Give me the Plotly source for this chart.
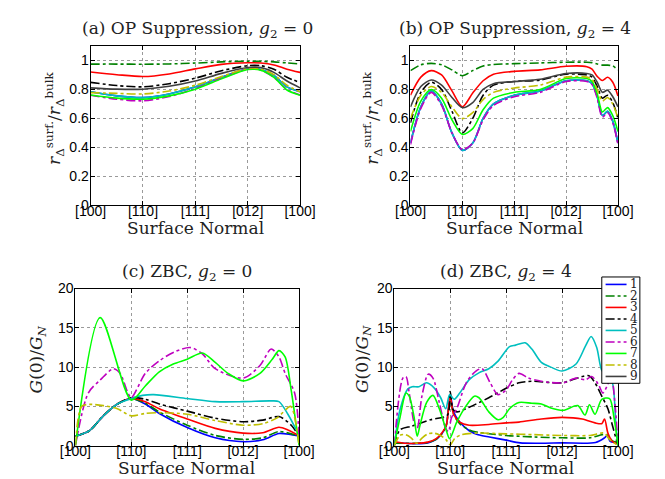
import plotly.graph_objects as go
from plotly.subplots import make_subplots

# tick labels / legend
TICK_TEXT = ["[100]", "[110]", "[111]", "[012]", "[100]"]
LEGEND_LABELS = ["1", "2", "3", "4", "5", "6", "7", "8", "9"]

# (a) OP suppression, g2 = 0  (common x grid)
A_X = [0, 0.5, 1, 1.5, 2, 2.5, 3, 3.25, 3.5, 3.75, 4]
A1 = [0.784, 0.756, 0.744, 0.769, 0.818, 0.884, 0.942, 0.938, 0.896, 0.818, 0.784]
A2 = [0.975, 0.975, 0.974, 0.976, 0.982, 0.99, 0.995, 0.994, 0.99, 0.983, 0.976]
A3 = [0.92, 0.902, 0.889, 0.907, 0.942, 0.973, 0.984, 0.982, 0.969, 0.94, 0.918]
A4 = [0.849, 0.827, 0.818, 0.84, 0.878, 0.929, 0.964, 0.964, 0.94, 0.884, 0.848]
A5 = [0.784, 0.756, 0.744, 0.769, 0.818, 0.884, 0.942, 0.938, 0.896, 0.818, 0.784]
A6 = [0.76, 0.733, 0.722, 0.751, 0.807, 0.878, 0.94, 0.933, 0.884, 0.8, 0.762]
A7 = [0.762, 0.74, 0.733, 0.756, 0.802, 0.873, 0.938, 0.933, 0.884, 0.796, 0.76]
A8 = [0.778, 0.773, 0.769, 0.789, 0.829, 0.889, 0.944, 0.942, 0.902, 0.829, 0.784]
A9 = [0.811, 0.802, 0.802, 0.822, 0.858, 0.911, 0.951, 0.951, 0.918, 0.858, 0.811]

# (b) OP suppression, g2 = 4
B_X = [0, 0.2, 0.4, 0.6, 0.8, 1.0, 1.2, 1.4, 1.6, 2.0, 2.5, 3.0, 3.4, 3.5, 3.6, 3.7, 3.8, 3.9, 4.0]
B1 = [0.43, 0.68, 0.79, 0.70, 0.50, 0.38, 0.43, 0.60, 0.70, 0.76, 0.79, 0.86, 0.86, 0.84, 0.75, 0.62, 0.65, 0.58, 0.43]
B2 = [0.93, 0.97, 0.98, 0.97, 0.935, 0.895, 0.93, 0.962, 0.972, 0.978, 0.983, 0.988, 0.988, 0.985, 0.975, 0.968, 0.968, 0.962, 0.935]
B3 = [0.76, 0.885, 0.93, 0.90, 0.79, 0.68, 0.775, 0.86, 0.905, 0.925, 0.935, 0.96, 0.957, 0.94, 0.89, 0.862, 0.884, 0.85, 0.755]
B4 = [0.57, 0.78, 0.85, 0.80, 0.65, 0.50, 0.60, 0.76, 0.83, 0.855, 0.865, 0.905, 0.9, 0.885, 0.82, 0.74, 0.76, 0.71, 0.6]
B5 = [0.43, 0.68, 0.79, 0.70, 0.50, 0.38, 0.43, 0.60, 0.70, 0.76, 0.79, 0.86, 0.86, 0.84, 0.75, 0.62, 0.65, 0.58, 0.43]
B6 = [0.42, 0.67, 0.78, 0.69, 0.50, 0.385, 0.43, 0.59, 0.69, 0.75, 0.78, 0.855, 0.855, 0.835, 0.74, 0.61, 0.64, 0.57, 0.42]
B7 = [0.51, 0.72, 0.80, 0.74, 0.59, 0.49, 0.53, 0.66, 0.74, 0.78, 0.80, 0.875, 0.875, 0.855, 0.77, 0.645, 0.675, 0.62, 0.51]
B8 = [0.60, 0.76, 0.82, 0.78, 0.68, 0.60, 0.64, 0.73, 0.78, 0.81, 0.83, 0.885, 0.885, 0.87, 0.8, 0.72, 0.745, 0.70, 0.60]
B9 = [0.68, 0.82, 0.865, 0.83, 0.745, 0.675, 0.71, 0.80, 0.84, 0.855, 0.87, 0.91, 0.91, 0.9, 0.85, 0.78, 0.795, 0.75, 0.68]

# (c) ZBC, g2 = 0  (each series has its own x samples)
C1_X = [0, 0.25, 0.5, 0.75, 1.0, 1.25, 1.5, 2.0, 2.5, 3.0, 3.35, 3.64, 3.86, 4.0]
C1_Y = [1.2, 1.9, 3.8, 5.3, 6.0, 5.3, 4.1, 2.3, 1.0, 0.5, 0.75, 1.55, 1.4, 1.25]
C2_X = [0, 0.25, 0.5, 0.75, 1.0, 1.25, 1.5, 2.0, 2.5, 3.0, 3.35, 3.64, 3.86, 4.0]
C2_Y = [1.2, 1.9, 3.8, 5.3, 6.0, 5.4, 4.3, 2.6, 1.3, 0.8, 1.0, 1.8, 1.5, 1.2]
C3_X = [0, 0.25, 0.5, 0.75, 1.0, 1.25, 1.5, 2.0, 2.5, 3.0, 3.35, 3.64, 3.8, 4.0]
C3_Y = [1.2, 1.9, 3.8, 5.3, 6.0, 5.6, 4.7, 3.4, 2.2, 1.6, 1.65, 2.35, 2.0, 1.25]
C4_X = [0, 0.25, 0.5, 0.75, 1.0, 1.25, 1.5, 2.0, 2.5, 3.0, 3.35, 3.64, 3.86, 4.0]
C4_Y = [1.2, 1.9, 3.8, 5.3, 6.1, 5.9, 5.3, 4.4, 3.5, 3.05, 3.25, 3.7, 2.6, 1.2]
C5_X = [0, 0.25, 0.5, 0.75, 1.0, 1.2, 1.4, 2.0, 2.5, 3.0, 3.5, 3.64, 3.8, 4.0]
C5_Y = [1.2, 1.9, 3.8, 5.3, 6.0, 6.4, 6.5, 6.0, 5.6, 5.6, 5.7, 5.6, 4.0, 1.3]
C6_X = [0, 0.23, 0.45, 0.68, 0.8, 0.94, 1.0, 1.25, 1.5, 1.76, 2.05, 2.27, 2.5, 3.0, 3.3, 3.5, 3.64, 3.75, 3.92, 4.0]
C6_Y = [0, 6.7, 8.4, 9.8, 9.2, 6.7, 6.1, 9.2, 10.8, 11.9, 12.5, 11.7, 9.8, 8.6, 10.2, 12.3, 11.3, 9.2, 6.7, 1.2]
C7_X = [0, 0.443, 1.0, 1.25, 1.5, 1.75, 2.0, 2.27, 2.5, 2.73, 3.0, 3.3, 3.52, 3.64, 3.75, 3.86, 3.95, 4.0]
C7_Y = [0, 16.3, 5.8, 7.6, 9.4, 10.4, 11.0, 11.8, 10.6, 9.2, 8.25, 9.2, 11.0, 12.1, 11.3, 7.0, 2.5, 0]
C8_X = [0, 0.11, 0.25, 0.5, 0.75, 1.0, 1.25, 1.5, 2.0, 2.5, 3.0, 3.35, 3.6, 3.85, 3.95, 4.0]
C8_Y = [0, 5.0, 5.25, 5.1, 4.7, 3.8, 4.1, 4.2, 4.0, 3.2, 2.6, 2.8, 3.5, 5.0, 2.5, 0]

# (d) ZBC, g2 = 4
D1_X = [0, 0.2, 0.4, 0.6, 0.75, 0.85, 0.93, 1.0, 1.06, 1.17, 1.34, 1.5, 1.7, 2.0, 2.25, 2.6, 3.0, 3.6, 3.76, 3.81, 3.86, 3.93, 4.0]
D1_Y = [0.4, 0.3, 0.25, 0.35, 0.8, 1.5, 2.6, 6.5, 4.3, 3.0, 1.9, 1.4, 1.1, 0.7, 0.35, 0.3, 0.35, 0.4, 1.0, 1.3, 0.55, 0.45, 0.5]
D2_X = [0, 0.2, 0.4, 0.6, 0.75, 0.85, 0.93, 1.0, 1.06, 1.17, 1.34, 1.5, 2.0, 2.5, 3.0, 3.5, 3.72, 3.8, 3.9, 4.0]
D2_Y = [0.3, 0.3, 0.3, 0.4, 0.8, 1.5, 2.6, 6.0, 4.0, 2.8, 2.0, 1.7, 1.3, 1.1, 1.0, 1.0, 1.4, 1.4, 0.6, 0.4]
D3_X = [0, 0.2, 0.4, 0.6, 0.75, 0.85, 0.93, 1.0, 1.06, 1.17, 1.34, 1.69, 2.0, 2.23, 2.63, 3.0, 3.36, 3.59, 3.71, 3.76, 3.82, 3.9, 4.0]
D3_Y = [0.5, 0.3, 0.3, 0.45, 0.9, 1.6, 2.6, 6.3, 4.0, 3.0, 2.6, 2.7, 2.9, 3.0, 3.4, 3.6, 3.4, 2.9, 2.8, 3.4, 1.6, 0.55, 0.2]
D4_X = [0, 0.1, 0.32, 0.65, 0.95, 1.0, 1.05, 1.12, 1.34, 1.69, 2.0, 2.23, 2.46, 3.0, 3.36, 3.48, 3.59, 3.71, 3.82, 3.9, 4.0]
D4_Y = [0, 2.0, 2.5, 3.3, 3.9, 6.9, 4.6, 4.3, 4.9, 6.1, 7.3, 8.0, 8.2, 8.0, 8.8, 8.9, 8.0, 6.3, 4.7, 2.6, 0]
D5_X = [0, 0.1, 0.24, 0.32, 0.44, 0.58, 0.72, 0.83, 0.92, 0.99, 1.07, 1.17, 1.34, 1.52, 1.69, 1.86, 2.06, 2.17, 2.34,
        2.46, 2.63, 2.8, 3.0, 3.25, 3.42, 3.52, 3.62, 3.71, 3.8, 3.9, 3.96, 4.0]
D5_Y = [0, 4.5, 7.2, 7.5, 7.5, 8.0, 7.3, 6.1, 4.7, 6.5, 5.9, 6.7, 8.4, 9.3, 9.8, 10.8, 12.6, 12.8, 13.1,
        12.3, 10.6, 10.0, 9.5, 10.4, 12.7, 13.9, 12.5, 9.6, 9.0, 8.0, 3.0, 0]
D6_X = [0, 0.153, 0.21, 0.267, 0.352, 0.409, 0.494, 0.607, 0.692, 0.805, 0.919, 0.97, 1.02, 1.117, 1.287, 1.46, 1.57,
        1.715, 1.855, 2.0, 2.116, 2.23, 2.4, 2.627, 3.02, 3.25, 3.42, 3.53, 3.65, 3.73, 3.8, 3.88, 3.95, 4.0]
D6_Y = [0, 8.6, 8.8, 6.7, 3.0, 2.2, 6.3, 9.1, 8.6, 5.5, 2.2, 1.8, 3.5, 4.7, 8.0, 9.5, 9.8,
        8.0, 6.5, 7.1, 8.4, 9.2, 8.6, 8.2, 8.0, 8.6, 8.4, 8.8, 7.8, 6.7, 7.5, 8.8, 5.0, 0]
D7_X = [0, 0.1, 0.21, 0.267, 0.35, 0.41, 0.46, 0.579, 0.692, 0.805, 0.919, 0.99, 1.117, 1.287, 1.43, 1.515, 1.69,
        1.855, 1.95, 2.06, 2.23, 2.46, 2.63, 2.8, 3.02, 3.28, 3.41, 3.49, 3.59, 3.71, 3.85, 3.93, 4.0]
D7_Y = [0, 3.5, 6.7, 6.3, 3.8, 1.2, 2.6, 5.5, 6.4, 4.7, 2.2, 0.9, 3.0, 5.1, 6.3, 6.1, 4.3,
        3.3, 3.6, 4.7, 5.5, 5.4, 5.3, 4.8, 4.5, 5.1, 3.9, 5.2, 4.0, 5.9, 6.0, 3.5, 0]
D8_X = [0, 0.1, 0.2, 0.3, 0.4, 0.5, 0.6, 0.7, 0.8, 0.92, 1.0, 1.08, 1.2, 1.5, 2.0, 2.5, 3.0, 3.5, 3.75, 3.85, 4.0]
D8_Y = [0, 1.3, 1.4, 1.0, 0.3, 1.0, 1.5, 1.6, 1.4, 0.8, 0.1, 0.9, 1.4, 1.6, 1.5, 1.4, 1.3, 1.3, 1.6, 0.8, 0]

# MATLAB-ish line styles for series 1..9
COLORS = ["#0000ff", "#008000", "#ff0000", "#000000", "#00bfbf",
          "#bf00bf", "#00ff00", "#bfbf00", "#404040"]
DASHES = ["solid", "dashdot", "solid", "dashdot", "solid",
          "dashdot", "solid", "dashdot", "solid"]

W, H = 665, 479
SERIF = "DejaVu Serif"
SANS = "Liberation Sans"


def px_x(p):
    return p / W


def px_y(p):
    return 1 - p / H


fig = make_subplots(rows=2, cols=2)

panels = [
    (1, 1, [(A_X, y) for y in [A1, A2, A3, A4, A5, A6, A7, A8, A9]]),
    (1, 2, [(B_X, y) for y in [B1, B2, B3, B4, B5, B6, B7, B8, B9]]),
    (2, 1, [(C1_X, C1_Y), (C2_X, C2_Y), (C3_X, C3_Y), (C4_X, C4_Y), (C5_X, C5_Y),
            (C6_X, C6_Y), (C7_X, C7_Y), (C8_X, C8_Y)]),
    (2, 2, [(D1_X, D1_Y), (D2_X, D2_Y), (D3_X, D3_Y), (D4_X, D4_Y), (D5_X, D5_Y),
            (D6_X, D6_Y), (D7_X, D7_Y), (D8_X, D8_Y)]),
]

for row, col, series in panels:
    for i, (xs, ys) in enumerate(series):
        fig.add_trace(
            go.Scatter(
                x=xs, y=ys, mode="lines",
                line=dict(color=COLORS[i], dash=DASHES[i], width=1.6, shape="spline", smoothing=0.8),
                showlegend=False, hoverinfo="skip",
            ),
            row=row, col=col,
        )

# plot areas, in pixels (left, right, top, bottom)
boxes = {
    (1, 1): (70, 290, 31, 196),
    (1, 2): (406, 624, 31, 196),
    (2, 1): (54, 289, 282, 444.5),
    (2, 2): (389, 624, 282, 444.5),
}
for (row, col), (l, r, t, b) in boxes.items():
    fig.update_xaxes(domain=[px_x(l), px_x(r)], row=row, col=col)
    fig.update_yaxes(domain=[px_y(b), px_y(t)], row=row, col=col)

fig.update_xaxes(
    range=[0, 4], tickvals=[0, 1, 2, 3, 4], ticktext=TICK_TEXT,
    showgrid=True, gridcolor="#9a9a9a", griddash="dot", gridwidth=1,
    showline=True, linecolor="black", linewidth=1, mirror="ticks",
    ticks="inside", ticklen=4, tickcolor="black", ticklabelstandoff=-7,
    tickfont=dict(family=SANS, size=14, color="black"), zeroline=False,
)
fig.update_yaxes(
    showgrid=True, gridcolor="#9a9a9a", griddash="dot", gridwidth=1,
    showline=True, linecolor="black", linewidth=1, mirror="ticks",
    ticks="inside", ticklen=4, tickcolor="black", ticklabelstandoff=-2,
    tickfont=dict(family=SANS, size=14, color="black"), zeroline=False,
)
for c in (1, 2):
    fig.update_yaxes(range=[0, 1.1], tickvals=[0, 0.2, 0.4, 0.6, 0.8, 1],
                     ticktext=["0", "0.2", "0.4", "0.6", "0.8", "1"], row=1, col=c)
    fig.update_yaxes(range=[0, 20], tickvals=[0, 5, 10, 15, 20], row=2, col=c)

annotations = []
titles = [
    ("(a) OP Suppression, <i>g</i><sub>2</sub> = 0", 182, 14),
    ("(b) OP Suppression, <i>g</i><sub>2</sub> = 4", 516, 14),
    ("(c) ZBC, <i>g</i><sub>2</sub> = 0", 171, 265),
    ("(d) ZBC, <i>g</i><sub>2</sub> = 4", 506, 265),
]
for text, x, y in titles:
    annotations.append(dict(text=text, x=px_x(x), y=px_y(y), xref="paper", yref="paper",
                            xanchor="center", yanchor="middle", showarrow=False,
                            font=dict(family=SERIF, size=17, color="#222")))
for x, y in [(180, 219), (515, 219), (171, 468), (506, 468)]:
    annotations.append(dict(text="Surface Normal", x=px_x(x), y=px_y(y), xref="paper", yref="paper",
                            xanchor="center", yanchor="middle", showarrow=False,
                            font=dict(family=SERIF, size=17, color="#222")))
r_title = "<i>r</i><sub>Δ</sub><sup>surf.</sup>/<i>r</i><sub>Δ</sub><sup>bulk</sup>"
g_title = "<i>G</i>(0)/<i>G</i><sub><i>N</i></sub>"
for text, x, y in [(r_title, 32, 106), (r_title, 366, 106), (g_title, 14, 355), (g_title, 356, 355)]:
    annotations.append(dict(text=text, x=px_x(x), y=px_y(y), xref="paper", yref="paper",
                            xanchor="center", yanchor="middle", showarrow=False, textangle=-90,
                            font=dict(family=SERIF, size=17, color="#222")))

# legend drawn as a small box over panel (d)
shapes = [dict(type="rect", xref="paper", yref="paper", layer="above",
               x0=px_x(607), x1=px_x(647), y0=px_y(380), y1=px_y(270),
               line=dict(color="black", width=1), fillcolor="white")]
for i, lab in enumerate(LEGEND_LABELS):
    yy = 277.7 + 11.9 * i
    shapes.append(dict(type="line", xref="paper", yref="paper", layer="above",
                       x0=px_x(611), x1=px_x(633), y0=px_y(yy), y1=px_y(yy),
                       line=dict(color=COLORS[i], dash=DASHES[i], width=1.6)))
    annotations.append(dict(text=lab, x=px_x(635), y=px_y(yy), xref="paper", yref="paper",
                            xanchor="left", yanchor="middle", showarrow=False,
                            font=dict(family=SERIF, size=12, color="#222")))

fig.update_layout(
    width=W, height=H,
    margin=dict(l=0, r=0, t=0, b=0),
    paper_bgcolor="white", plot_bgcolor="white",
    showlegend=False,
    annotations=annotations, shapes=shapes,
)

fig.write_html("out.html")
